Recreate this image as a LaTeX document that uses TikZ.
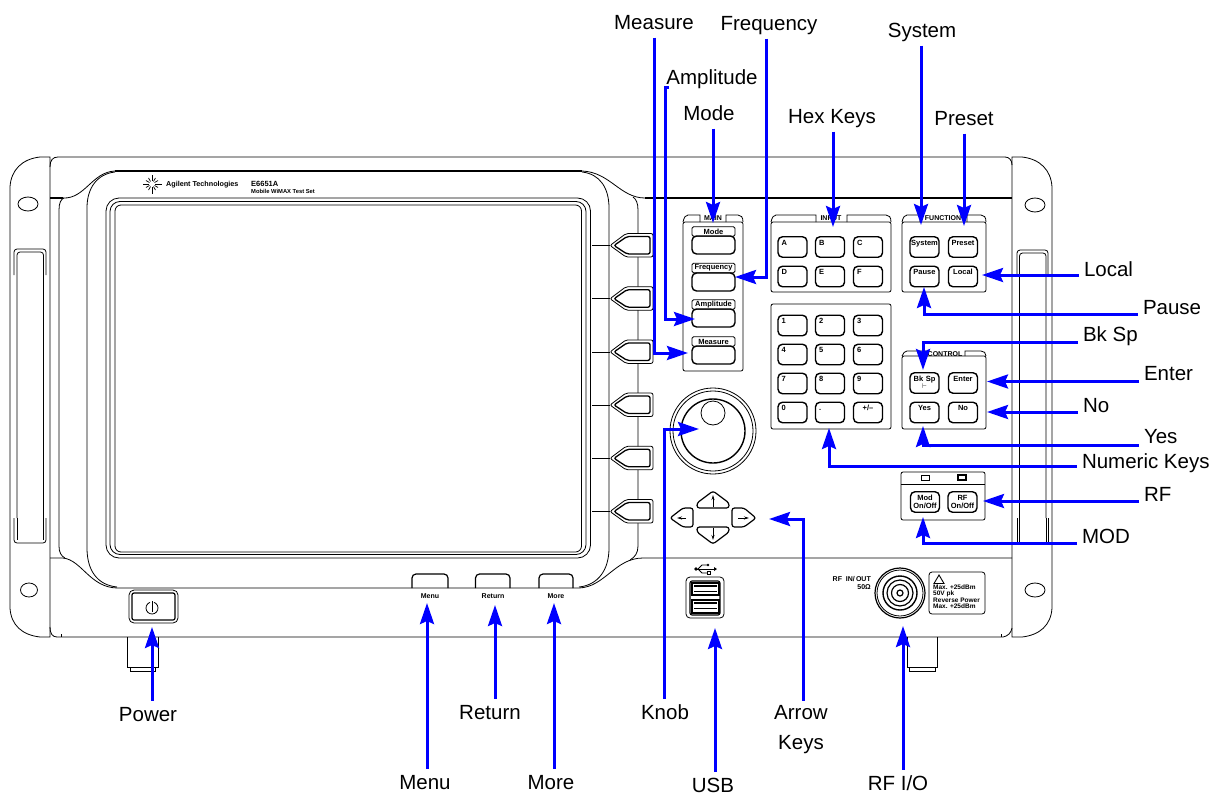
\documentclass[tikz,border=0pt]{standalone}
\usepackage{fontspec}
\setmainfont{Liberation Sans}
\usepackage{tikz}
\usetikzlibrary{arrows.meta,shapes.geometric}

\newcommand{\calloutfont}{\fontsize{20.5}{30}\selectfont}
\newcommand{\keyfont}{\fontsize{7.5}{8}\selectfont\bfseries}
\newcommand{\softkey}[1]{%
  \draw[panelline, rounded corners=2pt, fill=white] (610,#1) -- (626,#1-12) -- (653,#1-12) -- (653,#1+11.5) -- (626,#1+11.5) -- cycle;
  \draw[rounded corners=2pt, line width=1.3pt] (614,#1) -- (627,#1-9) -- (650,#1-9) -- (650,#1+8.5) -- (627,#1+8.5) -- cycle;
  \draw[panelline] (592,#1) -- (610,#1);
}
\tikzset{
  panelline/.style={line width=0.8pt},
  heavyline/.style={line width=1.7pt},
  callout/.style={font=\calloutfont, inner sep=0pt, outer sep=5pt, text height=16pt, text depth=3pt},
  tiplink/.style={blue, line width=3pt, -{Stealth[length=21pt,width=14pt,inset=3pt]}},
  keybox/.style={draw, line width=1.4pt, rounded corners=4.5pt, minimum width=29pt, minimum height=20.5pt, inner sep=0pt, text depth=11pt, text height=7pt, font=\keyfont},
  hexkey/.style={keybox, text width=22pt, align=left},
  namekey/.style={keybox, text width=28pt, align=center},
  tabtext/.style={font=\fontsize{7}{8}\selectfont\bfseries, inner sep=0pt},
  mainlabel/.style={draw, line width=0.9pt, rounded corners=1.5pt, minimum width=43pt, minimum height=9.5pt, inner sep=0pt, font=\keyfont},
  mainbody/.style={draw, line width=1.4pt, rounded corners=4.5pt, minimum width=43pt, minimum height=18pt, inner sep=0pt},
  paneltext/.style={font=\fontsize{6.5}{7}\selectfont\bfseries, inner sep=0pt, anchor=west},
}

\begin{document}
\begin{tikzpicture}[x=1pt, y=-1pt]
\useasboundingbox (0,0) rectangle (1220,795);

% Feet
\draw[panelline] (127,637) -- (127,667) -- (158,667) -- (158,637);
\draw[panelline] (130,667) -- (130,671) -- (155,671) -- (155,667);
\draw[panelline] (907,637) -- (907,667) -- (937,667) -- (937,637);
\draw[panelline] (909,667) -- (909,671) -- (935,671) -- (935,667);

% Rack ears
\draw[panelline] (50,157) -- (40,157) .. controls (22,159) and (11,170) .. (10,187) -- (10,608) .. controls (11,625) and (22,635) .. (40,637) -- (50,637) -- cycle;
\draw[panelline] (1012,157) -- (1022,157) .. controls (1040,159) and (1051,170) .. (1052,187) -- (1052,608) .. controls (1051,625) and (1040,635) .. (1022,637) -- (1012,637) -- cycle;
\draw[panelline] (28,204) ellipse (10 and 7);
\draw[panelline] (29,590) ellipse (8.5 and 7);
\draw[panelline] (1035,205) ellipse (10 and 7);
\draw[panelline] (1035,590) ellipse (10 and 7);

% Left handle
\draw[panelline, rounded corners=3pt] (14,275) -- (14,249) -- (46,249) -- (46,275);
\draw[panelline, rounded corners=3pt] (17,518) -- (17,252) -- (43.5,252) -- (43.5,518);
\draw[panelline, rounded corners=3pt] (14,518) -- (14,543) -- (46,543) -- (46,518);
\draw[panelline] (17,518) -- (17,540) (43.5,518) -- (43.5,540);

% Right handle
\draw[panelline, rounded corners=3pt] (1017,275) -- (1017,250) -- (1048,250) -- (1048,275);
\draw[panelline, rounded corners=3pt] (1019.5,518) -- (1019.5,253) -- (1046,253) -- (1046,518);
\draw[panelline] (1017,518) -- (1017,542) (1048,518) -- (1048,542) (1019.5,518) -- (1019.5,542) (1046,518) -- (1046,542) (1017,542) -- (1048,542);

% Chassis
\draw[panelline] (50,167) .. controls (50,160) and (53,157) .. (58,157) -- (1005,157) .. controls (1009,157) and (1012,160) .. (1012,165);
\draw[panelline] (50,627) .. controls (50,633) and (52,637) .. (57,637) -- (1003,637) .. controls (1008,636) and (1011,633) .. (1012,628);
\draw[panelline] (61,634) -- (61,637) (1001,634) -- (1001,637);
\draw[heavyline] (50,198) -- (63,198);
\draw[heavyline] (115,171) -- (582,171);
\draw[heavyline] (645,198) -- (1012,198);
\draw[panelline] (63,198) .. controls (85,199) and (92,172) .. (115,171);
\draw[panelline] (582,171) .. controls (610,172) and (620,198) .. (645,198);
\draw[panelline] (50,558) -- (63,558) .. controls (82,560) and (90,588) .. (118,588) -- (579,588) .. controls (605,587) and (615,558) .. (643,558) -- (1012,558);

% Bezel
\draw[panelline] (64,198) .. controls (61,199) and (59,203) .. (59,210) -- (59,546) .. controls (59,552) and (61,556) .. (65,558);
\draw[panelline] (115,172) .. controls (97,174) and (87,188) .. (87,208) -- (87,548) .. controls (87,570) and (97,585) .. (117,587);
\draw[panelline] (582,172) .. controls (600,174) and (609,188) .. (609,208) -- (609,548) .. controls (609,570) and (598,585) .. (579,587);
\draw[panelline] (633,197) .. controls (636,199) and (638,203) .. (638,210) -- (638,546) .. controls (638,553) and (635,557) .. (630,560);

% Screen
\draw[panelline, rounded corners=13pt] (106,198) rectangle (590.5,558);
\draw[panelline, rounded corners=10pt] (110,201.5) rectangle (586,554.5);
\draw[panelline, rounded corners=6pt] (115,205) rectangle (581.5,552);

% Logo and model
\foreach \sparkang in {0,30,...,330} {
  \draw[line width=0.7pt] (152,184) ++(\sparkang:3) -- ++(\sparkang:{mod(\sparkang,90)==0 ? 6.5 : 4});
}
\node (brand) [font=\fontsize{7.2}{8}\selectfont\bfseries, inner sep=0pt, anchor=west] at (166,184.5) {Agilent Technologies};
\node (model) [font=\fontsize{7.5}{8}\selectfont\bfseries, inner sep=0pt, anchor=west] at (251,184) {E6651A};
\node (modelname) [font=\fontsize{5.8}{7}\selectfont\bfseries, inner sep=0pt, anchor=west] at (251,191) {Mobile WiMAX Test Set};

% Softkeys
\softkey{245.5}
\softkey{298.7}
\softkey{351.9}
\softkey{405}
\softkey{458.3}
\softkey{511.5}

% Bottom keys
\draw[heavyline, line width=1.2pt, rounded corners=4pt] (412,588) -- (412,574) -- (448,574) -- (448,588);
\draw[heavyline, line width=1.2pt, rounded corners=4pt] (475.5,588) -- (475.5,574) -- (510,574) -- (510,588);
\draw[heavyline, line width=1.2pt, rounded corners=4pt] (539,588) -- (539,574) -- (573,574) -- (573,588);
\node (menukey) [tabtext] at (430,596) {Menu};
\node (returnkey) [tabtext] at (493,596) {Return};
\node (morekey) [tabtext] at (556,596) {More};

% Power button
\draw[panelline, rounded corners=5pt] (129,590) rectangle (178,623);
\draw[line width=1.2pt, rounded corners=2pt] (132,593) rectangle (175,620);
\draw[panelline] (154.05,602.36) arc (290:610:6);
\draw[panelline] (152,601) -- (152,612);

% MAIN panel
\draw[panelline, rounded corners=2pt] (683,222) rectangle (743,371);
\draw[panelline] (683,222) .. controls (684,217) and (686,215) .. (688,215) -- (700,215) -- (700,222);
\draw[panelline] (726,222) -- (726,215) -- (738,215) .. controls (741,215) and (743,217) .. (743,222);
\node (maintab) [tabtext] at (713,218) {MAIN};
\node (modelabel) [mainlabel] at (713.5,231.5) {Mode};
\node (modebody) [mainbody] at (713.5,245) {};
\node (freqlabel) [mainlabel] at (713.5,268) {Frequency};
\node (freqbody) [mainbody] at (713.5,282) {};
\node (amplabel) [mainlabel] at (713.5,304.5) {Amplitude};
\node (ampbody) [mainbody] at (713.5,318) {};
\node (measlabel) [mainlabel] at (713.5,341.5) {Measure};
\node (measbody) [mainbody] at (713.5,355) {};

% INPUT panel
\draw[panelline, rounded corners=2pt] (771,222) rectangle (891,292);
\draw[panelline] (771,222) .. controls (772,217) and (774,215) .. (776,215) -- (816,215) -- (816,222);
\draw[panelline] (847,222) -- (847,215) -- (886,215) .. controls (889,215) and (891,217) .. (891,222);
\node (inputtab) [tabtext] at (831,218) {INPUT};
\node (keyA) [hexkey] at (792.5,247) {A};
\node (keyB) [hexkey] at (830,247) {B};
\node (keyC) [hexkey] at (868,247) {C};
\node (keyD) [hexkey] at (792.5,276.5) {D};
\node (keyE) [hexkey] at (830,276.5) {E};
\node (keyF) [hexkey] at (868,276.5) {F};

% Numeric panel
\draw[panelline, rounded corners=2pt] (771,304) rectangle (891,429);
\node (key1) [hexkey] at (792.5,325.5) {1};
\node (key2) [hexkey] at (830,325.5) {2};
\node (key3) [hexkey] at (868,325.5) {3};
\node (key4) [hexkey] at (792.5,354.5) {4};
\node (key5) [hexkey] at (830,354.5) {5};
\node (key6) [hexkey] at (868,354.5) {6};
\node (key7) [hexkey] at (792.5,383.5) {7};
\node (key8) [hexkey] at (830,383.5) {8};
\node (key9) [hexkey] at (868,383.5) {9};
\node (key0) [hexkey] at (792.5,412.5) {0};
\node (keydot) [hexkey] at (830,412.5) {.};
\node (keysign) [namekey] at (868,412.5) {+/--};

% FUNCTION panel
\draw[panelline, rounded corners=2pt] (902,222) rectangle (986,292);
\draw[panelline] (902,222) .. controls (903,217) and (905,215) .. (907,215) -- (920,215) -- (920,222);
\draw[panelline] (967,222) -- (967,215) -- (981,215) .. controls (984,215) and (986,217) .. (986,222);
\node (functab) [tabtext] at (943,218) {FUNCTION};
\node (systemkey) [namekey] at (924.5,247) {System};
\node (presetkey) [namekey] at (963,247) {Preset};
\node (pausekey) [namekey] at (924.5,276.5) {Pause};
\node (localkey) [namekey] at (963,276.5) {Local};

% CONTROL panel
\draw[panelline, rounded corners=2pt] (902,356) rectangle (986,429);
\draw[panelline] (902,356) .. controls (903,353) and (905,351) .. (907,351) -- (926,351) -- (926,356);
\draw[panelline] (965,356) -- (965,351) -- (981,351) .. controls (984,351) and (986,353) .. (986,356);
\node (ctrltab) [tabtext] at (945,354) {CONTROL};
\node (bkspkey) [namekey] at (924.5,383) {Bk Sp\\[-1pt]$\vdash$};
\node (enterkey) [namekey] at (963,383) {Enter};
\node (yeskey) [namekey] at (924.5,412.5) {Yes};
\node (nokey) [namekey] at (963,412.5) {No};

% Output panel
\draw[panelline, rounded corners=2pt] (901,472) rectangle (985,520);
\draw[panelline] (901,484) -- (985,484);
\draw[panelline] (921,475) rectangle (929,480);
\draw[line width=1.1pt] (958,475) rectangle (966,480);
\node (modkey) [namekey] at (925,502) {Mod\\On/Off};
\node (rfkey) [namekey] at (962.5,502) {RF\\On/Off};

% Knob
\draw[panelline] (713,431) circle (43);
\draw[panelline] (713,431) circle (40);
\draw[line width=1.4pt] (713,431) circle (32);
\draw[panelline] (713,413) circle (12);

% Arrow keys
\draw[line width=1.2pt, rounded corners=2.5pt] (713,491) -- (729,503) -- (729,508) -- (697,508) -- (697,503) -- cycle;
\draw[line width=1.2pt, rounded corners=2.5pt] (697,527) -- (729,527) -- (729,532) -- (713,544) -- (697,532) -- cycle;
\draw[line width=1.2pt, rounded corners=2.5pt] (670,518) -- (683,508) -- (693,508) -- (693,527) -- (683,527) -- cycle;
\draw[line width=1.2pt, rounded corners=2.5pt] (732,508) -- (744,508) -- (756,518) -- (744,527) -- (732,527) -- cycle;
\draw[line width=0.9pt, -{Stealth[length=5pt,width=3pt]}] (713,507) -- (713,495);
\draw[line width=0.9pt, -{Stealth[length=5pt,width=3pt]}] (713,528) -- (713,540);
\draw[line width=0.9pt, -{Stealth[length=5pt,width=3pt]}] (686,518) -- (677,518);
\draw[line width=0.9pt, -{Stealth[length=5pt,width=3pt]}] (738,518) -- (749,518);

% USB
\draw[panelline] (696,569) -- (714,569);
\draw[panelline] (698,569) -- (702,565) -- (707,565) (698,569) -- (702,573) -- (707,573);
\fill (696,569) circle (1.8);
\draw[line width=0.6pt] (707,571.5) rectangle (710,574.5);
\fill (708,565) circle (1.4);
\fill (714,567) -- (717,569) -- (714,571) -- cycle;
\draw[panelline, rounded corners=4pt] (686,577) rectangle (724,618);
\draw[line width=1.1pt, rounded corners=2pt] (690,581) rectangle (720,615);
\draw[line width=1.1pt] (692,583) rectangle (719,595);
\draw[line width=1.1pt] (692,600) rectangle (719,613);
\draw[line width=1.3pt] (694,586) -- (717,586) (694,603) -- (717,603);
\draw[panelline] (694,591) -- (717,591) (694,608) -- (717,608);

% RF connector
\node (rfinout) [tabtext, anchor=east] at (871,579) {RF\ \ IN/\,OUT};
\node (rfimped) [tabtext, anchor=east] at (871,587) {50Ω};
\draw[line width=1.2pt] (900,593) circle (25);
\draw[panelline] (900,593) circle (23);
\draw[line width=1.4pt] (900,593) circle (17);
\draw[line width=1.2pt] (900,593) circle (13);
\draw[line width=1.2pt] (900,593) circle (8.5);
\draw[line width=1.2pt] (900,593) circle (3);

% Warning box
\draw[panelline, rounded corners=3pt] (929,572) rectangle (985,614);
\draw[line width=0.9pt] (939,575) -- (944,583.5) -- (934,583.5) -- cycle;
\node (warnA) [paneltext] at (933,587.5) {Max. +25dBm};
\node (warnB) [paneltext] at (933,594) {50V pk};
\node (warnC) [paneltext] at (933,600.5) {Reverse Power};
\node (warnD) [paneltext] at (933,606.5) {Max. +25dBm};

% Labels
\node (measure) [callout] at (654,23) {Measure};
\node (frequency) [callout] at (769,24) {Frequency};
\node (amplitude) [callout] at (712,78) {Amplitude};
\node (mode) [callout] at (709,114) {Mode};
\node (hexkeys) [callout] at (832,117) {Hex Keys};
\node (system) [callout] at (922,31) {System};
\node (preset) [callout] at (964,119) {Preset};
\node (local) [callout, anchor=west] at (1079,270) {Local};
\node (pause) [callout, anchor=west] at (1138,308) {Pause};
\node (bksp) [callout, anchor=west] at (1078,335) {Bk Sp};
\node (enter) [callout, anchor=west] at (1139,374) {Enter};
\node (no) [callout, anchor=west] at (1078,406) {No};
\node (yes) [callout, anchor=west] at (1139,437) {Yes};
\node (numeric) [callout, anchor=west] at (1077,462) {Numeric Keys};
\node (rf) [callout, anchor=west] at (1139,495) {RF};
\node (mod) [callout, anchor=west] at (1077,537) {MOD};
\node (power) [callout] at (148,715) {Power};
\node (menu) [callout] at (425,783) {Menu};
\node (return) [callout] at (490,713) {Return};
\node (more) [callout] at (551,783) {More};
\node (knob) [callout] at (665,713) {Knob};
\node (usb) [callout] at (713,786) {USB};
\node (arrowkeys) [callout, text height=, text depth=, align=center] at (801,730) {Arrow\\Keys};
\node (rfio) [callout] at (898,784) {RF I/O};

% Arrow ends
\coordinate (measuretip) at (688,353);
\coordinate (ampstart) at (669,87);
\coordinate (ampcorner) at (665,87);
\coordinate (amptip) at (695,319);
\coordinate (freqtip) at (735,277);
\coordinate (freqbend) at (766,277);
\coordinate (modetip) at (713,223);
\coordinate (hextip) at (833,227);
\coordinate (systemtip) at (921,225);
\coordinate (presettip) at (964,226);
\coordinate (localtip) at (982,275);
\coordinate (pausetip) at (924,287);
\coordinate (pausebend) at (924,314);
\coordinate (bksptip) at (923,370);
\coordinate (bkspbend) at (923,342);
\coordinate (entertip) at (987,381.5);
\coordinate (notip) at (987,412);
\coordinate (yestip) at (923,426);
\coordinate (yesbend) at (923,445.5);
\coordinate (numerictip) at (829,428);
\coordinate (numericbend) at (829,466.5);
\coordinate (rftip) at (983,501);
\coordinate (modtip) at (923,517);
\coordinate (modbend) at (923,543);
\coordinate (powertip) at (152,627);
\coordinate (menutip) at (427,603);
\coordinate (returntip) at (495,605);
\coordinate (moretip) at (554,603);
\coordinate (knobtip) at (699,429);
\coordinate (knobbend) at (664,429);
\coordinate (usbtip) at (715,628);
\coordinate (arrowtip) at (769,519);
\coordinate (arrowbend) at (803,519);
\coordinate (rfiotip) at (903,626);

% Connectors
\draw[tiplink] (measure.south) |- (measuretip);
\draw[tiplink] (ampstart) -- (ampcorner) |- (amptip);
\draw[tiplink] (frequency.south -| freqbend) |- (freqtip);
\draw[tiplink] (mode.south -| modetip) -- (modetip);
\draw[tiplink] (hexkeys.south -| hextip) -- (hextip);
\draw[tiplink] (system.south -| systemtip) -- (systemtip);
\draw[tiplink] (preset.south -| presettip) -- (presettip);
\draw[tiplink] (local.west |- localtip) -- (localtip);
\draw[tiplink] (pause.west |- pausebend) -| (pausetip);
\draw[tiplink] (bksp.west |- bkspbend) -| (bksptip);
\draw[tiplink] (enter.west |- entertip) -- (entertip);
\draw[tiplink] (no.west |- notip) -- (notip);
\draw[tiplink] (yes.west |- yesbend) -| (yestip);
\draw[tiplink] (numeric.west |- numericbend) -| (numerictip);
\draw[tiplink] (rf.west |- rftip) -- (rftip);
\draw[tiplink] (mod.west |- modbend) -| (modtip);
\draw[tiplink] (power.north -| powertip) -- (powertip);
\draw[tiplink] (menu.north -| menutip) -- (menutip);
\draw[tiplink] (return.north -| returntip) -- (returntip);
\draw[tiplink] (more.north -| moretip) -- (moretip);
\draw[tiplink] (knob.north -| knobbend) |- (knobtip);
\draw[tiplink] (usb.north -| usbtip) -- (usbtip);
\draw[tiplink] (arrowkeys.north -| arrowbend) |- (arrowtip);
\draw[tiplink] (rfio.north -| rfiotip) -- (rfiotip);
\end{tikzpicture}
\end{document}
